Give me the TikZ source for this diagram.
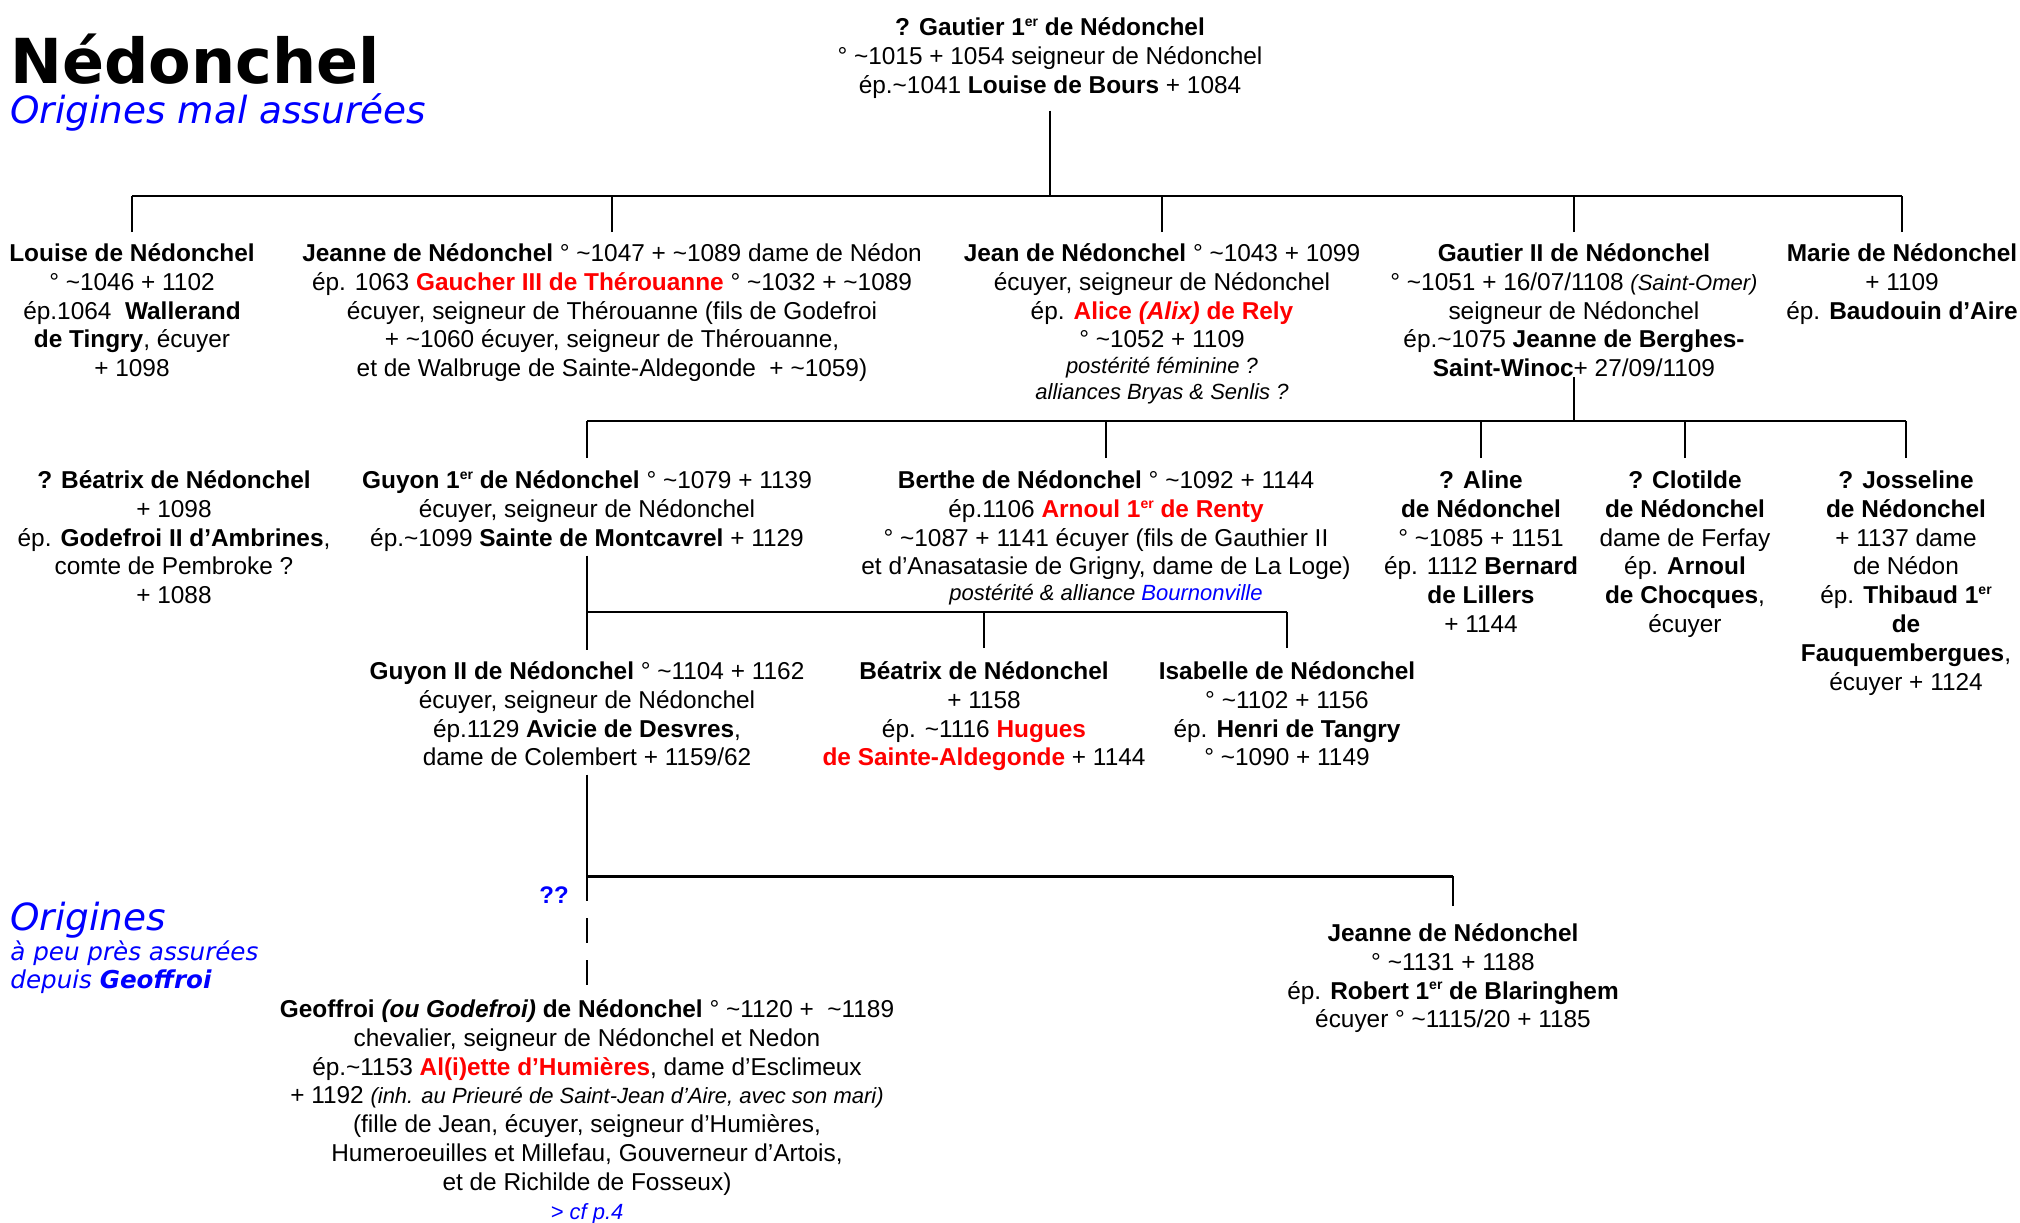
\documentclass[tikz,border=0pt]{standalone}
\usepackage{fontspec}
\usepackage{xcolor}
\setmainfont{Liberation Sans}
\newfontfamily\titlefont{DejaVu Sans}
\usetikzlibrary{positioning}

\newcommand\vers{\textasciitilde}
\newcommand\er{\raisebox{4.6pt}{\fontsize{7}{8}\selectfont er}}
\newcommand\pfont{\fontsize{12.2}{14.4}\selectfont}
\newcommand\sfont{\fontsize{11}{13}\selectfont\itshape}

\begin{document}
\begin{tikzpicture}[x=0.5pt, y=-0.5pt,
	person/.style={align=center, inner sep=0pt, anchor=north, font=\pfont},
	link/.style={line width=1pt},
	biglink/.style={line width=1.5pt},
	unsure/.style={line width=1pt, dash pattern=on 12.5pt off 8.5pt}]
	\useasboundingbox (0,0) rectangle (2020,1222);
	
	% titres
	\node [anchor=base west, inner sep=0pt, font=\titlefont\bfseries\fontsize{31}{36}\selectfont] (titre) at (10,83) {Nédonchel};
	\node [anchor=base west, inner sep=0pt, text=blue, font=\titlefont\itshape\fontsize{18.7}{22}\selectfont] (malsur) at (10,123) {Origines mal assurées};
	\node [anchor=base west, inner sep=0pt, text=blue, font=\titlefont\itshape\fontsize{18.7}{22}\selectfont] (origines) at (10,930) {Origines};
	\node [anchor=base west, inner sep=0pt, text=blue, font=\titlefont\itshape\fontsize{12.3}{15}\selectfont] (apeupres) at (10,960) {à peu près assurées};
	\node [anchor=base west, inner sep=0pt, text=blue, font=\titlefont\itshape\fontsize{12.3}{15}\selectfont] (depuis) at (10,988) {depuis \textbf{Geoffroi}};
	
	% generation 1
	\node [person] (gautier1) at (1050,15) {\strut\textbf{? Gautier 1\er{} de Nédonchel}\\ ° \vers1015 + 1054 seigneur de Nédonchel\\ ép.\vers1041 \textbf{Louise de Bours} + 1084};
	
	% generation 2
	\coordinate (bar2) at (0,196);
	\node [person] (louise) at (132,241) {\strut\textbf{Louise de Nédonchel}\\ ° \vers1046 + 1102\\ ép.1064 \ \textbf{Wallerand}\\ \textbf{de Tingry}, écuyer\\ + 1098};
	\node [person] (jeanne) at (612,241) {\strut\textbf{Jeanne de Nédonchel} ° \vers1047 + \vers1089 dame de Nédon\\ ép. 1063 \textcolor{red}{\textbf{Gaucher III de Thérouanne}} ° \vers1032 + \vers1089\\ écuyer, seigneur de Thérouanne (fils de Godefroi\\ + \vers1060 écuyer, seigneur de Thérouanne,\\ et de Walbruge de Sainte-Aldegonde \ + \vers1059)};
	\node [person] (jean) at (1162,241) {\strut\textbf{Jean de Nédonchel} ° \vers1043 + 1099\\ écuyer, seigneur de Nédonchel\\ ép. \textcolor{red}{\textbf{Alice \textit{(Alix)} de Rely}}\\ ° \vers1052 + 1109\\[-1.5pt] {\sfont postérité féminine ?}\\[-1.5pt] {\sfont alliances Bryas \& Senlis ?}};
	\node [person] (gautier2) at (1574,241) {\strut\textbf{Gautier II de Nédonchel}\\ ° \vers1051 + 16/07/1108 {\sfont (Saint-Omer)}\\ seigneur de Nédonchel\\ ép.\vers1075 \textbf{Jeanne de Berghes-}\\ \textbf{Saint-Winoc}+ 27/09/1109};
	\node [person] (marie) at (1902,241) {\strut\textbf{Marie de Nédonchel}\\ + 1109\\ ép. \textbf{Baudouin d’Aire}};
	
	\draw [link] ([yshift=-6pt]gautier1.south) -- (gautier1.south |- bar2);
	\draw [link] (louise.north |- bar2) -- (marie.north |- bar2);
	\foreach \n in {louise, jeanne, jean, gautier2, marie}
		\draw [link] ([yshift=4.5pt]\n.north) -- (\n.north |- bar2);
	
	% generation 3
	\coordinate (bar3) at (0,421);
	\node [person] (beatrix) at (174,468) {\strut\textbf{? Béatrix de Nédonchel}\\ + 1098\\ ép. \textbf{Godefroi II d’Ambrines},\\ comte de Pembroke ?\\ + 1088};
	\node [person] (guyon1) at (587,468) {\strut\textbf{Guyon 1\er{} de Nédonchel} ° \vers1079 + 1139\\ écuyer, seigneur de Nédonchel\\ ép.\vers1099 \textbf{Sainte de Montcavrel} + 1129};
	\node [person] (berthe) at (1106,468) {\strut\textbf{Berthe de Nédonchel} ° \vers1092 + 1144\\ ép.1106 \textcolor{red}{\textbf{Arnoul 1\er{} de Renty}}\\ ° \vers1087 + 1141 écuyer (fils de Gauthier II\\ et d’Anasatasie de Grigny, dame de La Loge)\\[-1.5pt] {\sfont postérité \& alliance \textcolor{blue}{Bournonville}}};
	\node [person] (aline) at (1481,468) {\strut\textbf{? Aline}\\ \textbf{de Nédonchel}\\ ° \vers1085 + 1151\\ ép. 1112 \textbf{Bernard}\\ \textbf{de Lillers}\\ + 1144};
	\node [person] (clotilde) at (1685,468) {\strut\textbf{? Clotilde}\\ \textbf{de Nédonchel}\\ dame de Ferfay\\ ép. \textbf{Arnoul}\\ \textbf{de Chocques},\\ écuyer};
	\node [person] (josseline) at (1906,468) {\strut\textbf{? Josseline}\\ \textbf{de Nédonchel}\\ + 1137 dame\\ de Nédon\\ ép. \textbf{Thibaud 1\er}\\ \textbf{de}\\ \textbf{Fauquembergues},\\ écuyer + 1124};
	
	\draw [link] (gautier2.south) -- (gautier2.south |- bar3);
	\draw [link] (guyon1.north |- bar3) -- (josseline.north |- bar3);
	\foreach \n in {guyon1, berthe, aline, clotilde, josseline}
		\draw [link] ([yshift=5pt]\n.north) -- (\n.north |- bar3);
	
	% generation 4
	\coordinate (bar4) at (0,612);
	\node [person] (guyon2) at (587,659) {\strut\textbf{Guyon II de Nédonchel} ° \vers1104 + 1162\\ écuyer, seigneur de Nédonchel\\ ép.1129 \textbf{Avicie de Desvres},\\ dame de Colembert + 1159/62};
	\node [person] (beatrix2) at (984,659) {\strut\textbf{Béatrix de Nédonchel}\\ + 1158\\ ép. \vers1116 \textcolor{red}{\textbf{Hugues}}\\ \textcolor{red}{\textbf{de Sainte-Aldegonde}} + 1144};
	\node [person] (isabelle) at (1287,659) {\strut\textbf{Isabelle de Nédonchel}\\ ° \vers1102 + 1156\\ ép. \textbf{Henri de Tangry}\\ ° \vers1090 + 1149};
	
	\draw [link] ([yshift=-2pt]guyon1.south) -- ([yshift=4.5pt]guyon2.north);
	\draw [link] (guyon1.south |- bar4) -- (isabelle.north |- bar4);
	\foreach \n in {beatrix2, isabelle}
		\draw [link] ([yshift=5.5pt]\n.north) -- (\n.north |- bar4);
	
	% generation 5
	\coordinate (bar5) at (0,876);
	\node [person] (geoffroi) at (587,997) {\strut\textbf{Geoffroi \textit{(ou Godefroi)} de Nédonchel} ° \vers1120 + \ \vers1189\\ chevalier, seigneur de Nédonchel et Nedon\\ ép.\vers1153 \textcolor{red}{\textbf{Al(i)ette d’Humières}}, dame d’Esclimeux\\ + 1192 {\sfont (inh. au Prieuré de Saint-Jean d’Aire, avec son mari)}\\ (fille de Jean, écuyer, seigneur d’Humières,\\ Humeroeuilles et Millefau, Gouverneur d’Artois,\\ et de Richilde de Fosseux)\\ {\sfont\textcolor{blue}{> cf p.4}}};
	\node [person] (jeanne2) at (1453,921) {\strut\textbf{Jeanne de Nédonchel}\\ ° \vers1131 + 1188\\ ép. \textbf{Robert 1\er{} de Blaringhem}\\ écuyer ° \vers1115/20 + 1185};
	\node [text=blue, font=\bfseries\fontsize{12}{14}\selectfont, inner sep=0pt] (doute) at (554,895) {??};
	
	\draw [link] ([yshift=-4pt]guyon2.south) -- (guyon2.south |- bar5);
	\draw [biglink] (guyon2.south |- bar5) -- (jeanne2.north |- bar5);
	\draw [link] ([yshift=7.5pt]jeanne2.north) -- (jeanne2.north |- bar5);
	\draw [unsure] (guyon2.south |- bar5) -- ([yshift=5pt]geoffroi.north);
\end{tikzpicture}
\end{document}
